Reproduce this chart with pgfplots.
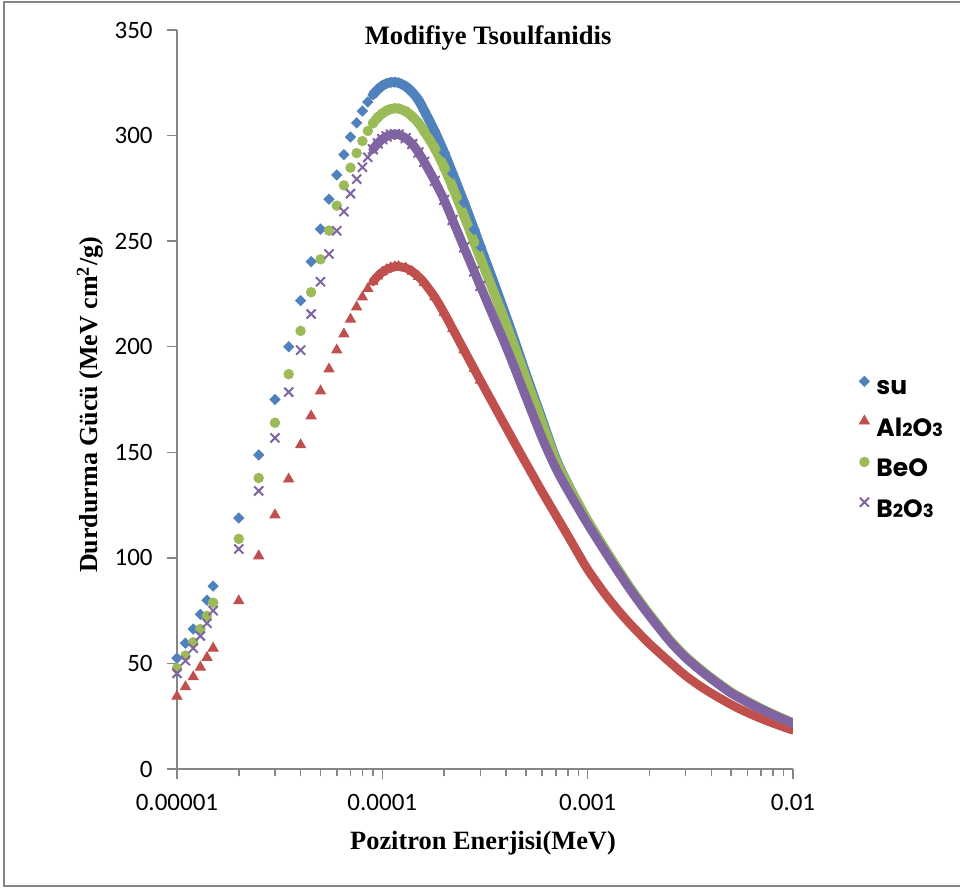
\documentclass[border=0pt]{standalone}
\usepackage{pgfplots}
\pgfplotsset{compat=1.18}
\usepackage{fontspec}
\setmainfont{Liberation Serif}
\newfontfamily\calibri{Carlito}
\newfontfamily\legfont{Poppins}
\definecolor{suc}{RGB}{79,129,189}
\definecolor{alc}{RGB}{192,80,77}
\definecolor{bec}{RGB}{155,187,89}
\definecolor{boc}{RGB}{128,100,162}
\definecolor{axc}{RGB}{134,134,134}
\newcommand{\sm}[1]{{\fontsize{9}{10}\selectfont #1}}
\begin{document}
\begin{tikzpicture}
\useasboundingbox (0,0) rectangle (480pt,445pt);
\draw[axc, line width=0.75pt] (2pt,2pt) rectangle (495pt,444pt);
\begin{axis}[
 at={(88.5pt,60.5pt)}, anchor=south west,
 scale only axis, width=308pt, height=369.5pt,
 xmode=log, xmin=1e-5, xmax=1e-2, ymin=0, ymax=350,
 axis x line*=bottom, axis y line*=left,
 axis line style={axc, line width=0.75pt, -},
 tick style={axc, line width=0.75pt},
 tick align=outside,
 major tick length=5pt, minor tick length=3.5pt,
 xtick={1e-5,1e-4,1e-3,1e-2}, xticklabels={0.00001,0.0001,0.001,0.01},
 minor xtick={2e-5,3e-5,4e-5,5e-5,6e-5,7e-5,8e-5,9e-5,2e-4,3e-4,4e-4,5e-4,6e-4,7e-4,8e-4,9e-4,2e-3,3e-3,4e-3,5e-3,6e-3,7e-3,8e-3,9e-3},
 ytick={0,50,100,150,200,250,300,350},
 minor ytick={},
 /pgf/number format/assume math mode=true,
 ticklabel style={font=\calibri\fontsize{12.5}{15}\selectfont, text=black},
 xticklabel style={anchor=center, yshift=-11.5pt},
 yticklabel style={anchor=east, inner sep=0pt, xshift=-7pt},
 title={Modifiye Tsoulfanidis},
 title style={at={(axis description cs:0.505,0.989)}, anchor=center, yshift=-6pt, font=\bfseries\fontsize{13.3}{15}\selectfont},
 xlabel={Pozitron Enerjisi(MeV)},
 xlabel style={at={(axis description cs:0.4968,-0.1001)}, anchor=center, font=\bfseries\fontsize{13.2}{15}\selectfont},
 ylabel={Durdurma Gücü (MeV cm\textsuperscript{2}/g)},
 ylabel style={at={(axis description cs:-0.1412,0.4926)}, anchor=center, font=\bfseries\fontsize{13}{15}\selectfont},
 legend style={at={(axis description cs:1.107,0.434)}, anchor=west, draw=none, fill=none, inner sep=0pt, row sep=8.85pt, column sep=3.5pt, font=\legfont\bfseries\fontsize{12.5}{14}\selectfont, nodes={inner sep=0pt}},
 legend cell align=left,
 legend image code/.code={\draw[#1] plot coordinates {(0pt,3.8pt)};},
]
% ---- su (sparse) ----
\addplot[only marks, mark=square*, mark size=1.8pt, mark options={rotate=45, fill=suc, draw=suc}] table {
x y
1e-5 52.5
1.1e-5 59.6
1.2e-5 66.3
1.3e-5 73.2
1.4e-5 79.9
1.5e-5 86.6
2e-5 118.9
2.5e-5 148.7
3e-5 175.0
3.5e-5 200.0
4e-5 221.8
4.5e-5 240.3
5e-5 255.7
5.5e-5 269.8
6e-5 281.3
6.5e-5 291.0
7e-5 299.3
7.5e-5 306.0
8e-5 311.6
8.5e-5 315.9
};
\addlegendentry{su}
\addplot[forget plot, suc, line width=4.8pt, line cap=round, line join=round, smooth, mark=square*, mark size=1.8pt, mark indices={1,2,3,4,5,6,7,8,9,10,11,12,13,14,15,16,17}, mark options={rotate=45, fill=suc, draw=suc, line width=0.4pt}] table {
x y
9e-5 319.3
9.5e-5 321.8
1e-4 323.6
1.05e-4 324.7
1.1e-4 325.2
1.15e-4 325.3
1.2e-4 325.0
1.3e-4 323.3
1.4e-4 320.5
1.5e-4 316.8
1.6e-4 311.8
1.8e-4 302.0
2e-4 292.0
2.2e-4 282.0
2.5e-4 268.3
2.8e-4 255.5
3e-4 247.5
3.5e-4 230.0
4e-4 214.5
4.5e-4 200.3
5e-4 187.2
6e-4 165.5
7e-4 147.0
8e-4 135.0
9e-4 125.5
1e-3 117.4
1.2e-3 104.8
1.4e-3 94.6
1.6e-3 86.0
1.8e-3 79.0
2e-3 73.0
2.5e-3 61.1
3e-3 53.0
3.5e-3 47.4
4e-3 42.9
5e-3 36.1
6e-3 31.8
7e-3 28.4
8e-3 25.7
9e-3 23.5
1e-2 21.6
};
% ---- Al2O3 ----
\addplot[only marks, mark=triangle*, mark size=2.9pt, mark options={fill=alc, draw=alc}] table {
x y
1e-5 34.4
1.1e-5 38.9
1.2e-5 43.6
1.3e-5 48.2
1.4e-5 52.8
1.5e-5 57.2
2e-5 79.6
2.5e-5 100.9
3e-5 120.3
3.5e-5 137.3
4e-5 153.5
4.5e-5 167.2
5e-5 179.0
5.5e-5 189.4
6e-5 198.4
6.5e-5 206.0
7e-5 213.0
7.5e-5 218.8
8e-5 223.5
8.5e-5 227.5
};
\addlegendentry{Al\sm{2}O\sm{3}}
\addplot[forget plot, alc, line width=4.4pt, line cap=round, line join=round, smooth, mark=triangle*, mark size=2.9pt, mark indices={1,2,3,4,5,6,7,8,9,10,11,12,13,14,15,16,17}, mark options={fill=alc, draw=alc, line width=0.4pt}] table {
x y
9e-5 230.8
9.5e-5 233.4
1e-4 235.3
1.05e-4 236.6
1.1e-4 237.4
1.15e-4 237.9
1.2e-4 238.0
1.3e-4 237.3
1.4e-4 235.6
1.5e-4 233.2
1.6e-4 230.3
1.8e-4 223.5
2e-4 216.0
2.2e-4 208.5
2.5e-4 198.4
2.8e-4 189.5
3e-4 184.1
3.5e-4 172.2
4e-4 161.9
4.5e-4 152.9
5e-4 144.9
6e-4 131.3
7e-4 120.2
8e-4 110.6
9e-4 102.0
1e-3 94.5
1.2e-3 83.6
1.4e-3 75.4
1.6e-3 69.0
1.8e-3 63.8
2e-3 59.3
2.5e-3 50.8
3e-3 44.2
3.5e-3 39.5
4e-3 35.9
5e-3 30.5
6e-3 26.7
7e-3 23.9
8e-3 21.7
9e-3 19.9
1e-2 18.4
};
% ---- BeO ----
\addplot[only marks, mark=*, mark size=2.4pt, mark options={fill=bec, draw=bec}] table {
x y
1e-5 47.7
1.1e-5 53.7
1.2e-5 60.0
1.3e-5 66.3
1.4e-5 72.5
1.5e-5 78.8
2e-5 109.0
2.5e-5 137.8
3e-5 164.0
3.5e-5 187.0
4e-5 207.5
4.5e-5 225.8
5e-5 241.4
5.5e-5 255.0
6e-5 266.8
6.5e-5 276.4
7e-5 284.8
7.5e-5 291.7
8e-5 297.4
8.5e-5 302.2
};
\addlegendentry{BeO}
\addplot[forget plot, bec, line width=4.8pt, line cap=round, line join=round, smooth, mark=*, mark size=2.4pt, mark indices={1,2,3,4,5,6,7,8,9,10,11,12,13,14,15,16,17}, mark options={fill=bec, draw=bec, line width=0.4pt}] table {
x y
9e-5 305.8
9.5e-5 308.6
1e-4 310.5
1.05e-4 311.8
1.1e-4 312.6
1.15e-4 312.9
1.2e-4 312.8
1.3e-4 311.5
1.4e-4 309.0
1.5e-4 306.0
1.6e-4 302.0
1.8e-4 294.0
2e-4 285.0
2.2e-4 275.5
2.5e-4 262.0
2.8e-4 249.5
3e-4 242.0
3.5e-4 225.5
4e-4 211.0
4.5e-4 197.5
5e-4 185.0
6e-4 164.0
7e-4 146.0
8e-4 134.8
9e-4 125.6
1e-3 117.6
1.2e-3 105.0
1.4e-3 94.8
1.6e-3 86.2
1.8e-3 79.2
2e-3 73.2
2.5e-3 61.3
3e-3 53.2
3.5e-3 47.6
4e-3 43.1
5e-3 36.3
6e-3 32.0
7e-3 28.6
8e-3 25.9
9e-3 23.7
1e-2 21.8
};
% ---- B2O3 ----
\addplot[only marks, mark=x, mark size=3.2pt, mark options={draw=boc, line width=1pt}] table {
x y
1e-5 45.3
1.1e-5 51.3
1.2e-5 57.2
1.3e-5 63.0
1.4e-5 69.0
1.5e-5 75.0
2e-5 104.2
2.5e-5 131.7
3e-5 156.8
3.5e-5 178.5
4e-5 198.4
4.5e-5 215.5
5e-5 230.8
5.5e-5 243.9
6e-5 254.9
6.5e-5 264.0
7e-5 272.5
7.5e-5 279.4
8e-5 285.0
8.5e-5 289.7
};
\addlegendentry{B\sm{2}O\sm{3}}
\addplot[forget plot, boc, line width=4.5pt, line cap=round, line join=round, smooth, mark=x, mark size=3.2pt, mark indices={1,2,3,4,5,6,7,8,9,10,11,12,13,14,15,16,17}, mark options={draw=boc, line width=1pt}] table {
x y
9e-5 293.5
9.5e-5 296.3
1e-4 298.3
1.05e-4 299.6
1.1e-4 300.4
1.15e-4 300.7
1.2e-4 300.5
1.3e-4 298.8
1.4e-4 296.0
1.5e-4 292.0
1.6e-4 287.5
1.8e-4 278.5
2e-4 269.5
2.2e-4 260.0
2.5e-4 247.0
2.8e-4 235.7
3e-4 228.8
3.5e-4 213.5
4e-4 200.2
4.5e-4 187.7
5e-4 176.2
6e-4 156.8
7e-4 142.4
8e-4 132.0
9e-4 123.5
1e-3 116.0
1.2e-3 103.8
1.4e-3 93.8
1.6e-3 85.4
1.8e-3 78.5
2e-3 72.6
2.5e-3 60.8
3e-3 52.8
3.5e-3 47.2
4e-3 42.8
5e-3 36.0
6e-3 31.7
7e-3 28.4
8e-3 25.7
9e-3 23.5
1e-2 21.6
};
\end{axis}
\end{tikzpicture}
\end{document}
